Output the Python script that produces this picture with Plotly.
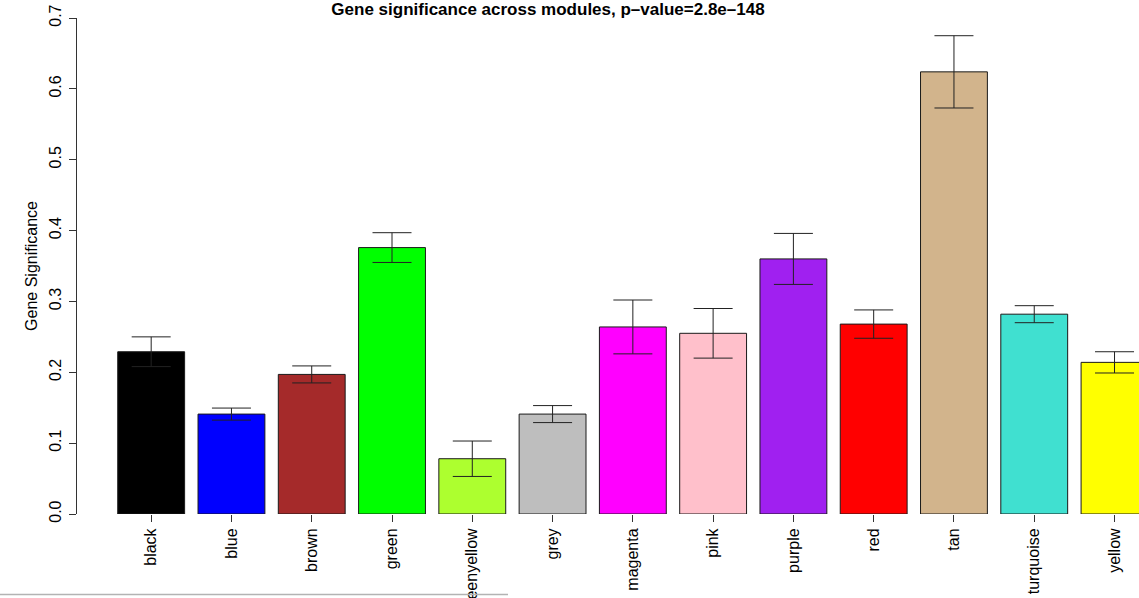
import plotly.graph_objects as go

# Module names, mean gene significance and standard errors per module
modules = ["black", "blue", "brown", "green", "greenyellow", "grey", "magenta",
           "pink", "purple", "red", "tan", "turquoise", "yellow"]
gene_sig = [0.229, 0.141, 0.197, 0.376, 0.078, 0.141, 0.264,
            0.255, 0.360, 0.268, 0.624, 0.282, 0.214]
std_err = [0.021, 0.0085, 0.012, 0.021, 0.025, 0.012, 0.038,
           0.035, 0.036, 0.020, 0.051, 0.012, 0.015]
bar_colors = ["#000000", "#0000FF", "#A52A2A", "#00FF00", "#ADFF2F", "#BEBEBE",
              "#FF00FF", "#FFC0CB", "#A020F0", "#FF0000", "#D2B48C", "#40E0D0",
              "#FFFF00"]
y_ticks = [0.0, 0.1, 0.2, 0.3, 0.4, 0.5, 0.6, 0.7]

FONT = "Liberation Sans, Arial, Helvetica, sans-serif"
W, H = 1139, 598
ML, MR, MT, MB = 77, 0, 18, 84

positions = list(range(len(modules)))

fig = go.Figure(
    go.Bar(
        x=positions,
        y=gene_sig,
        width=0.833,
        marker=dict(color=bar_colors, line=dict(color="#1a1a1a", width=1)),
        error_y=dict(type="data", array=std_err, visible=True,
                     color="#222222", thickness=1, width=19.5),
        hoverinfo="x+y",
    )
)

fig.update_layout(
    width=W, height=H,
    margin=dict(l=ML, r=MR, t=MT, b=MB, pad=0, autoexpand=False),
    paper_bgcolor="white", plot_bgcolor="white",
    font=dict(family=FONT, size=16, color="black"),
    showlegend=False,
    title=dict(
        text="<b>Gene significance across modules, p\u2013value=2.8e\u2013148</b>",
        font=dict(family=FONT, size=17, color="black"),
        x=548 / W, xref="container", xanchor="center",
        y=(H - 15) / H, yref="container", yanchor="bottom",
    ),
    xaxis=dict(
        range=[-0.924, 12.305],
        tickvals=positions, ticktext=modules,
        tickangle=-90,
        ticks="outside", ticklen=7, tickcolor="#333333", tickwidth=1,
        showline=False, showgrid=False, zeroline=False,
        tickfont=dict(family=FONT, size=16, color="black"),
        automargin=False,
        fixedrange=True,
    ),
    yaxis=dict(
        range=[0, 0.7],
        tickvals=y_ticks, tickformat=".1f",
        tickangle=-90,
        ticks="outside", ticklen=7, tickcolor="#333333", tickwidth=1,
        ticklabelstandoff=2,
        showline=True, linecolor="#333333", linewidth=1,
        showgrid=False, zeroline=False,
        tickfont=dict(family=FONT, size=16, color="black"),
        title=dict(text="Gene Significance",
                   font=dict(family=FONT, size=16, color="black"),
                   standoff=4),
        automargin=False,
        fixedrange=True,
    ),
    shapes=[
        dict(type="line", xref="paper", yref="paper",
             x0=-ML / (W - ML - MR), x1=(508 - ML) / (W - ML - MR),
             y0=-(594.5 - (H - MB)) / (H - MT - MB),
             y1=-(594.5 - (H - MB)) / (H - MT - MB),
             line=dict(color="#b3b3b3", width=1.5)),
    ],
)

fig.write_html("out.html")
